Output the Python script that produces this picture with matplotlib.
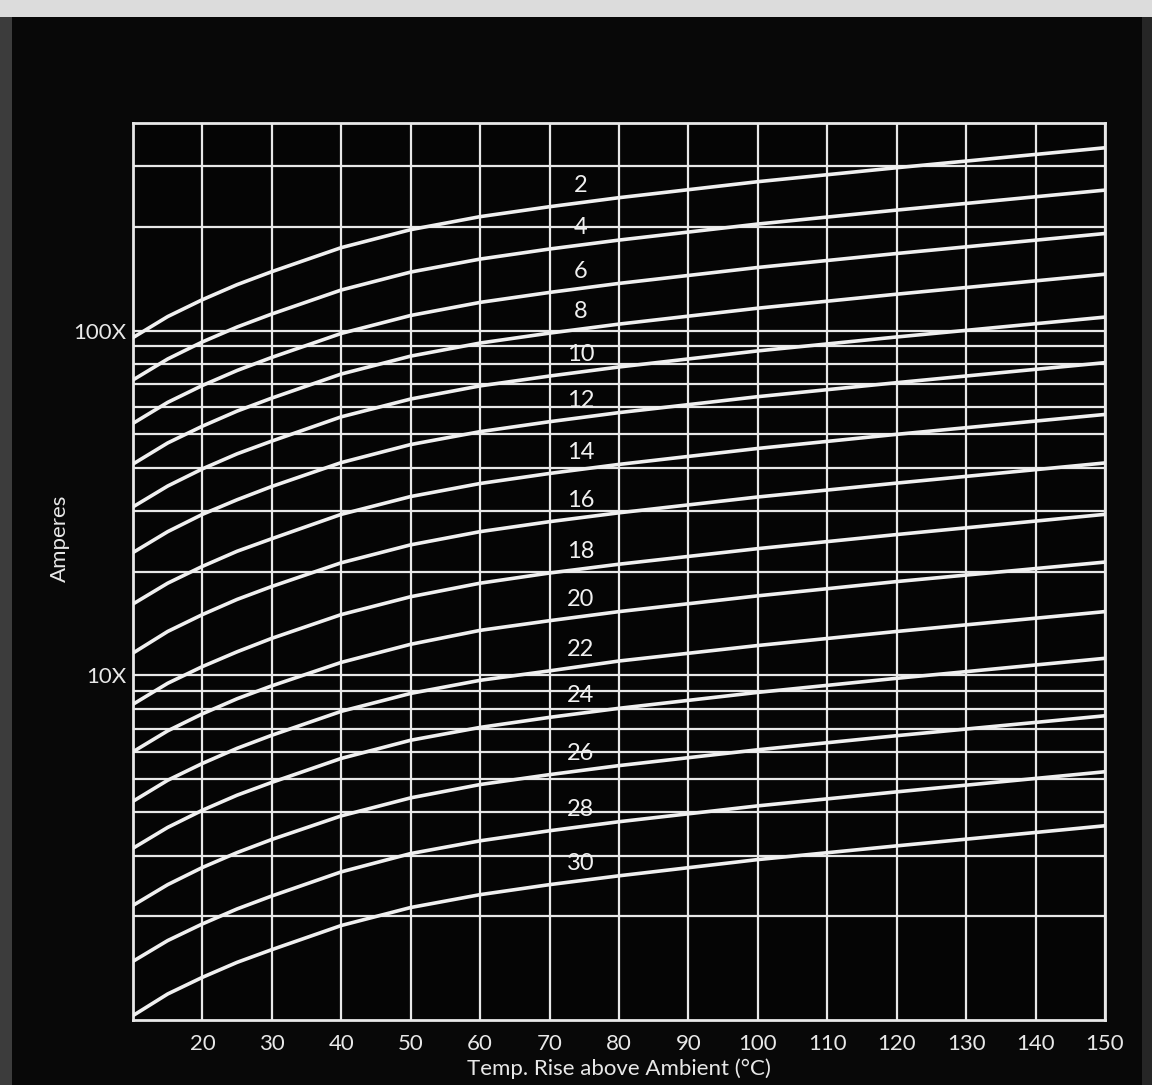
import numpy as np
import matplotlib.pyplot as plt
from matplotlib.ticker import LogLocator, NullFormatter, FixedLocator, FixedFormatter
from matplotlib.patches import Rectangle

plt.rcParams['font.family'] = ['Lato', 'DejaVu Sans']

# Temperature rise (deg C) at which the curves were read
temp_rise = [10, 15, 20, 25, 30, 40, 50, 60, 70, 80, 100, 120, 150]

# Current (A) for each wire gauge
awg_2 = [95.4, 109.8, 122.9, 135.9, 148.2, 174.0, 196.2, 214.0, 228.7, 242.9, 270.3, 296.7, 339.0]
awg_4 = [71.9, 82.7, 92.7, 102.4, 111.7, 131.1, 147.8, 161.2, 172.4, 183.0, 203.7, 223.6, 255.5]
awg_6 = [53.8, 61.9, 69.3, 76.6, 83.6, 98.1, 110.6, 120.7, 129.0, 137.0, 152.4, 167.3, 191.2]
awg_8 = [41.0, 47.2, 52.8, 58.4, 63.7, 74.8, 84.3, 92.0, 98.3, 104.4, 116.1, 127.5, 145.7]
awg_10 = [30.8, 35.4, 39.7, 43.9, 47.8, 56.2, 63.3, 69.1, 73.8, 78.4, 87.3, 95.8, 109.4]
awg_12 = [22.7, 26.1, 29.3, 32.3, 35.3, 41.4, 46.7, 50.9, 54.4, 57.8, 64.3, 70.6, 80.7]
awg_14 = [16.1, 18.5, 20.7, 22.9, 24.9, 29.3, 33.0, 36.0, 38.5, 40.9, 45.5, 50.0, 57.1]
awg_16 = [11.6, 13.4, 15.0, 16.6, 18.1, 21.2, 23.9, 26.1, 27.9, 29.6, 32.9, 36.1, 41.3]
awg_18 = [8.24, 9.48, 10.6, 11.7, 12.8, 15.0, 16.9, 18.5, 19.8, 21.0, 23.3, 25.6, 29.3]
awg_20 = [6.00, 6.90, 7.73, 8.55, 9.32, 10.9, 12.3, 13.5, 14.4, 15.3, 17.0, 18.7, 21.3]
awg_22 = [4.31, 4.96, 5.55, 6.14, 6.70, 7.86, 8.86, 9.67, 10.3, 11.0, 12.2, 13.4, 15.3]
awg_24 = [3.15, 3.62, 4.06, 4.49, 4.89, 5.74, 6.48, 7.06, 7.55, 8.02, 8.92, 9.80, 11.2]
awg_26 = [2.15, 2.47, 2.77, 3.06, 3.34, 3.91, 4.41, 4.82, 5.15, 5.47, 6.08, 6.68, 7.63]
awg_28 = [1.48, 1.70, 1.90, 2.10, 2.29, 2.69, 3.04, 3.31, 3.54, 3.76, 4.18, 4.59, 5.25]
awg_30 = [1.03, 1.19, 1.33, 1.47, 1.60, 1.88, 2.12, 2.31, 2.47, 2.62, 2.92, 3.20, 3.66]

gauges = ["2", "4", "6", "8", "10", "12", "14", "16", "18", "20", "22", "24", "26", "28", "30"]
curves = [awg_2, awg_4, awg_6, awg_8, awg_10, awg_12, awg_14, awg_16,
          awg_18, awg_20, awg_22, awg_24, awg_26, awg_28, awg_30]

x_ticks = [20, 30, 40, 50, 60, 70, 80, 90, 100, 110, 120, 130, 140, 150]
y_ticks = [10, 100]
y_tick_labels = ["10X", "100X"]

W, H = 1152, 1085
fig = plt.figure(figsize=(W / 100, H / 100), dpi=100, facecolor="#080808")

# scan edges
fig.patches.append(Rectangle((0, 1 - 17 / H), 1, 17 / H, transform=fig.transFigure,
                             facecolor="#dcdcdc", edgecolor="none", zorder=0))
fig.patches.append(Rectangle((0, 0), 12 / W, 1 - 17 / H, transform=fig.transFigure,
                             facecolor="#3c3c3c", edgecolor="none", zorder=0))
fig.patches.append(Rectangle((1 - 10 / W, 0), 10 / W, 1 - 17 / H, transform=fig.transFigure,
                             facecolor="#262626", edgecolor="none", zorder=0))

ax = fig.add_axes([133 / W, 1 - 1020 / H, (1105 - 133) / W, (1020 - 123) / H])
ax.set_facecolor("#050505")
ax.set_yscale("log")
ax.set_xlim(10, 150)
ax.set_ylim(1, 400)

# grid
ax.xaxis.set_major_locator(FixedLocator(x_ticks))
ax.yaxis.set_major_locator(FixedLocator(y_ticks))
ax.yaxis.set_major_formatter(FixedFormatter(y_tick_labels))
ax.yaxis.set_minor_locator(LogLocator(base=10, subs=np.arange(2, 10), numticks=20))
ax.yaxis.set_minor_formatter(NullFormatter())
ax.grid(True, which="both", axis="both", color="#e8e8e8", linewidth=1.6)
ax.set_axisbelow(True)
ax.tick_params(which="both", length=0, colors="#e8e8e8")
ax.tick_params(axis="x", pad=10, labelsize=16)
ax.tick_params(axis="y", pad=5, labelsize=16)
for s in ax.spines.values():
    s.set_color("#e8e8e8")
    s.set_linewidth(2)

for name, vals in zip(gauges, curves):
    ax.plot(temp_rise, vals, color="#f0f0f0", linewidth=2.6, solid_joinstyle="round", zorder=3)
    y_lab = 10 ** np.interp(74.5, temp_rise, np.log10(vals))
    ax.annotate(name, (74.5, y_lab), xytext=(0, 12.5), textcoords="offset points",
                ha="center", va="center", color="#f0f0f0", fontsize=17, zorder=4)

ax.set_xlabel("Temp. Rise above Ambient (°C)", color="#e8e8e8", fontsize=16, labelpad=3)
fig.text(60 / W, 1 - 538 / H, "Amperes", rotation=90, color="#e8e8e8",
         fontsize=16, ha="center", va="center")

fig.savefig("out.png", dpi=100, facecolor=fig.get_facecolor())
